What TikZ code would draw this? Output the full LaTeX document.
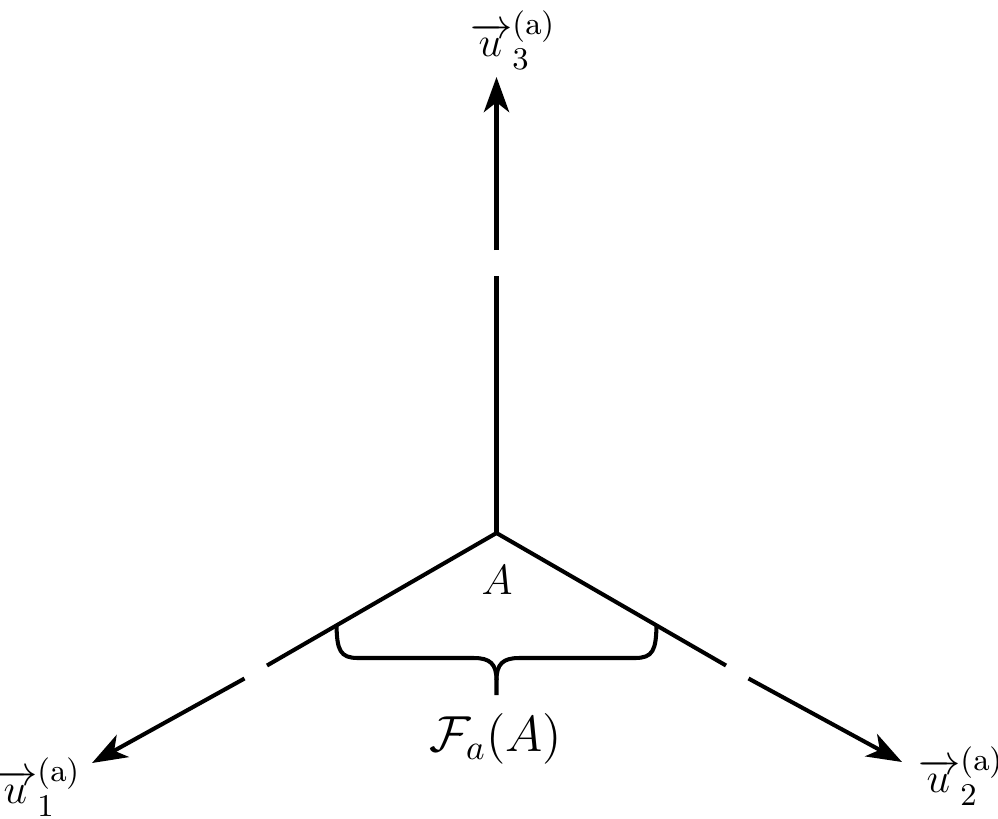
\documentclass[tikz,border=0pt]{standalone}
\usepackage{amsmath}
\usetikzlibrary{arrows.meta}
\newcommand{\ulab}[1]{$\overrightarrow{u\kern0.04em}_{#1}^{(\mathrm{a})}$}
\begin{document}
\begin{tikzpicture}[x=0.01cm,y=-0.01cm,
  axis/.style={line width=1.15pt},
  axisarrow/.style={axis,-{Stealth[length=10pt,width=7.2pt,inset=2.8pt]}},
  bracestyle/.style={line width=1.15pt,line join=round},
  veclabel/.style={inner sep=0pt,font=\fontsize{13}{15}\selectfont},
  ptlabel/.style={inner sep=0pt,font=\fontsize{12}{14}\selectfont},
  setlabel/.style={inner sep=0pt,font=\fontsize{14}{16}\selectfont},
]
\useasboundingbox (0,0) rectangle (998,818);
% origin
\coordinate (A) at (496.5,533);
% vertical axis
\coordinate (g3a) at (496.5,276);
\coordinate (g3b) at (496.5,250);
\coordinate (t3) at (496.5,77);
% left axis
\coordinate (g1a) at (267,665.5);
\coordinate (g1b) at (244.5,678.5);
\coordinate (t1) at (92,763);
% right axis
\coordinate (g2a) at (726,665.5);
\coordinate (g2b) at (748.5,678.5);
\coordinate (t2) at (902,762);

\draw[axis] (A) -- (g3a);
\draw[axisarrow] (g3b) -- (t3);
\draw[axis] (A) -- (g1a);
\draw[axisarrow] (g1b) -- (t1);
\draw[axis] (A) -- (g2a);
\draw[axisarrow] (g2b) -- (t2);

% brace
\coordinate (bl) at (336.5,625.5);
\coordinate (br) at (656.5,625.5);
\coordinate (bm) at (496.5,680);
\coordinate (bb) at (496.5,695);
\draw[bracestyle] (bl) .. controls (337,650) and (340,658) .. (358,658)
  -- (474,658) .. controls (490,658) and (496.5,664) .. (bm) -- (bb);
\draw[bracestyle] (br) .. controls (656,650) and (653,658) .. (635,658)
  -- (519,658) .. controls (503,658) and (496.5,664) .. (bm);

% labels
\node[ptlabel] (lA) at (497,580) {$A$};
\node[setlabel] (lF) at (496,739) {$\mathcal{F}_a(A)$};
\node[veclabel] (l1) at (38,787) {\ulab{1}};
\node[veclabel] (l2) at (961,776) {\ulab{2}};
\node[veclabel] (l3) at (513,40) {\ulab{3}};
\end{tikzpicture}
\end{document}
